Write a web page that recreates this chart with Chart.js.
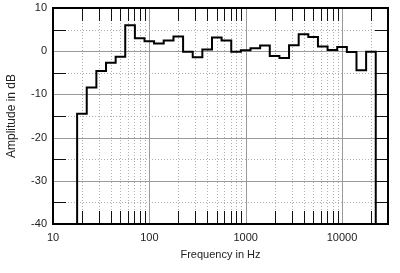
<!DOCTYPE html>
<html>
<head>
<meta charset="utf-8">
<script src="https://cdn.jsdelivr.net/npm/chart.js@4"></script>
<style>
  html, body { margin: 0; padding: 0; background: #fff; }
  #wrap { width: 400px; height: 273px; }
</style>
</head>
<body>
<div id="wrap"><canvas id="chart"></canvas></div>
<script>
// 1/3-octave band edges in Hz
const bandEdges = [17.8, 22.4, 28.2, 35.5, 44.7, 56.2, 70.8, 89.1, 112, 141, 178, 224, 282, 355,
  447, 562, 708, 891, 1122, 1413, 1778, 2239, 2818, 3548, 4467, 5623, 7079, 8913, 11220,
  14125, 17783, 22387];
// level of each band in dB
const bandLevels = [-14.5, -8.4, -4.6, -2.7, -1.3, 6.0, 3.0, 2.3, 1.8, 2.5, 3.4, -0.1, -1.4,
  0.4, 3.2, 2.5, -0.1, 0.2, 0.7, 1.3, -1.1, -1.6, 1.4, 3.9, 3.3, 1.1, 0.3, 1.0, -0.2, -4.4, -0.1];
const xTickLabels = [10, 100, 1000, 10000];
const yTickLabels = [10, 0, -10, -20, -30, -40];

const yMin = -40, yMax = 10;

// build step points: up from the floor, one point per band, back down to the floor
const points = [{ x: bandEdges[0], y: yMin }];
bandLevels.forEach((v, i) => points.push({ x: bandEdges[i], y: v }));
points.push({ x: bandEdges[bandEdges.length - 1], y: bandLevels[bandLevels.length - 1] });
points.push({ x: bandEdges[bandEdges.length - 1], y: yMin });

// grid, tick marks and frame drawn from the chart's own scales
const frame = {
  id: "frame",
  beforeDatasetsDraw(chart) {
    const { ctx, chartArea: a, scales: { x, y } } = chart;
    ctx.save();
    ctx.lineWidth = 1;
    for (let d = 10; d <= 10000; d *= 10) {
      for (let m = 1; m <= 9; m++) {
        const v = m * d;
        if (v <= 10 || v >= 30000) continue;
        const px = Math.round(x.getPixelForValue(v)) + 0.5;
        ctx.beginPath();
        if (m === 1) {
          ctx.setLineDash([]);
          ctx.strokeStyle = "#9a9a9a";
        } else {
          ctx.setLineDash([1, 2]);
          ctx.strokeStyle = "#b0b0b0";
        }
        ctx.moveTo(px, a.top);
        ctx.lineTo(px, a.bottom);
        ctx.stroke();
        if (m !== 1) {
          ctx.setLineDash([]);
          ctx.strokeStyle = "#111";
          ctx.beginPath();
          ctx.moveTo(px, a.top);
          ctx.lineTo(px, a.top + 13);
          ctx.moveTo(px, a.bottom);
          ctx.lineTo(px, a.bottom - 13);
          ctx.stroke();
        }
      }
    }
    for (let v = yMin + 5; v < yMax; v += 5) {
      const py = Math.round(y.getPixelForValue(v)) + 0.5;
      const major = v % 10 === 0;
      ctx.beginPath();
      if (major) {
        ctx.setLineDash([]);
        ctx.strokeStyle = "#9a9a9a";
      } else {
        ctx.setLineDash([1, 2]);
        ctx.strokeStyle = "#b0b0b0";
      }
      ctx.moveTo(a.left, py);
      ctx.lineTo(a.right, py);
      ctx.stroke();
      ctx.setLineDash([]);
      ctx.strokeStyle = "#111";
      ctx.beginPath();
      if (!major) {
        ctx.moveTo(a.left, py);
        ctx.lineTo(a.left + 13, py);
      }
      ctx.moveTo(a.right, py);
      ctx.lineTo(a.right - 13, py);
      ctx.stroke();
    }
    ctx.restore();
  },
  afterDraw(chart) {
    const { ctx, chartArea: a } = chart;
    ctx.save();
    ctx.strokeStyle = "#000";
    ctx.lineWidth = 2;
    ctx.strokeRect(a.left, a.top, a.right - a.left, a.bottom - a.top);
    ctx.restore();
  }
};

const font = { family: "'Liberation Sans', Arial, sans-serif", size: 11 };

new Chart(document.getElementById("chart"), {
  type: "line",
  data: {
    datasets: [{
      data: points,
      stepped: "before",
      borderColor: "#000",
      borderWidth: 2,
      pointRadius: 0,
      fill: false
    }]
  },
  options: {
    responsive: true,
    maintainAspectRatio: false,
    animation: false,
    layout: { padding: { top: 8, right: 12, bottom: 7, left: 0 } },
    plugins: { legend: { display: false }, tooltip: { enabled: false } },
    scales: {
      x: {
        type: "logarithmic",
        min: 10,
        max: 30000,
        grid: { display: false, drawTicks: false },
        border: { display: false },
        afterBuildTicks: (s) => { s.ticks = xTickLabels.map(v => ({ value: v })); },
        afterFit: (s) => { s.height = 42; s.paddingLeft = 0; s.paddingRight = 0; },
        ticks: {
          color: "#222",
          font,
          padding: 7,
          maxRotation: 0,
          autoSkip: false,
          callback: (v) => String(v)
        },
        title: { display: true, text: "Frequency in Hz", color: "#222", font, padding: { top: 6 } }
      },
      y: {
        min: yMin,
        max: yMax,
        grid: { display: false, drawTicks: false },
        border: { display: false },
        afterBuildTicks: (s) => { s.ticks = yTickLabels.map(v => ({ value: v })); },
        afterFit: (s) => { s.width = 53; s.paddingTop = 0; s.paddingBottom = 0; },
        ticks: { color: "#222", font, padding: 6 },
        title: { display: true, text: "Amplitude in dB", color: "#222", font: { family: font.family, size: 12 }, padding: { bottom: 4 } }
      }
    }
  },
  plugins: [frame]
});
</script>
</body>
</html>
